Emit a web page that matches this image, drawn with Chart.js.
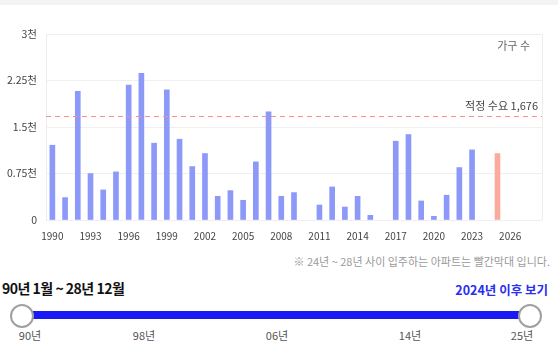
<!DOCTYPE html>
<html><head><meta charset="utf-8">
<script src="https://cdn.jsdelivr.net/npm/chart.js@4.4.0/dist/chart.umd.min.js"></script>
<style>
html,body{margin:0;padding:0;background:#fff;width:558px;height:357px;overflow:hidden;font-family:"Noto Sans CJK KR","Noto Sans",sans-serif;}
#topband{position:absolute;left:0;top:0;width:558px;height:5px;background:#f3f3f3;}
#wrap{position:absolute;left:0;top:0;width:558px;height:244px;}
.abs{position:absolute;white-space:nowrap;}
#note{right:8px;top:253px;font-size:11px;color:#9a9a9a;}
#range{left:2px;top:278px;font-size:14px;font-weight:bold;color:#111;letter-spacing:-0.5px;}
#after{right:10px;top:280px;font-size:12.5px;font-weight:bold;color:#2a2ef0;}
#track{left:22px;top:311px;width:508px;height:8px;background:#1a1af5;}
.knob{width:20px;height:20px;border:2px solid #a0a0a0;border-radius:50%;background:#fff;top:304px;}
.lbl{top:327px;font-size:11px;color:#555;transform:translateX(-50%);}
</style></head>
<body>
<div id="topband"></div>
<div id="wrap"><canvas id="c" width="558" height="244"></canvas></div>
<div class="abs" id="note">※ 24년 ~ 28년 사이 입주하는 아파트는 빨간막대 입니다.</div>
<div class="abs" id="range">90년 1월 ~ 28년 12월</div>
<div class="abs" id="after">2024년 이후 보기</div>
<div class="abs" id="track"></div>
<div class="abs knob" style="left:10px"></div>
<div class="abs knob" style="left:518px"></div>
<div class="abs lbl" style="left:30px">90년</div>
<div class="abs lbl" style="left:144px">98년</div>
<div class="abs lbl" style="left:277px">06년</div>
<div class="abs lbl" style="left:410px">14년</div>
<div class="abs lbl" style="left:522px">25년</div>
<script>
const years = ['1990','1991','1992','1993','1994','1995','1996','1997','1998','1999','2000','2001','2002','2003','2004','2005','2006','2007','2008','2009','2010','2011','2012','2013','2014','2015','2016','2017','2018','2019','2020','2021','2022','2023','2024','2025','2026','2027','2028'];
const pastSupply = [1206,361,2074,749,485,776,2176,2364,1239,2100,1303,862,1072,382,474,318,937,1745,382,442,null,242,533,210,382,75,null,1271,1379,307,59,399,846,1131,null,null,null,null,null];
const futureSupply = [null,null,null,null,null,null,null,null,null,null,null,null,null,null,null,null,null,null,null,null,null,null,null,null,null,null,null,null,null,null,null,null,null,null,null,1072,null,null,null];
const yTicks = [0,750,1500,2250,3000];
const yTickLabels = ['0','0.75천','1.5천','2.25천','3천'];
const properDemand = 1676;
const properDemandLabel = '적정 수요 1,676';
const unitLabel = '가구 수';

const FONT = '"Noto Sans CJK KR","Noto Sans",sans-serif';

const overlay = {
  id:'overlay',
  afterDatasetsDraw(chart){
    const {ctx, chartArea:a, scales:{y}} = chart;
    ctx.save();
    ctx.strokeStyle='#ececec'; ctx.lineWidth=1;
    ctx.beginPath(); ctx.moveTo(a.right+0.5,a.top); ctx.lineTo(a.right+0.5,a.bottom); ctx.stroke();
    const yy = Math.round(y.getPixelForValue(properDemand))+0.5;
    ctx.strokeStyle='#ff8c8c'; ctx.lineWidth=1; ctx.setLineDash([5,4]);
    ctx.beginPath(); ctx.moveTo(a.left,yy); ctx.lineTo(a.right,yy); ctx.stroke();
    ctx.setLineDash([]);
    ctx.fillStyle='#444'; ctx.font='11px '+FONT; ctx.textAlign='right'; ctx.textBaseline='bottom';
    ctx.fillText(properDemandLabel, a.right-4, yy-5);
    ctx.fillStyle='#666'; ctx.font='11px '+FONT; ctx.textBaseline='middle';
    ctx.fillText(unitLabel, a.right-12, a.top+12);
    ctx.restore();
  }
};

new Chart(document.getElementById('c'), {
  type:'bar',
  data:{labels:years, datasets:[
    {data:pastSupply, backgroundColor:'#8d99f9', barThickness:5},
    {data:futureSupply, backgroundColor:'#fbab9e', barThickness:5}
  ]},
  options:{
    responsive:false, animation:false, maintainAspectRatio:false,
    layout:{padding:{top:34,right:16,left:0,bottom:0}},
    plugins:{legend:{display:false},tooltip:{enabled:false}},
    scales:{
      x:{stacked:true, grid:{display:false}, border:{display:false},
         ticks:{autoSkip:false,maxRotation:0,color:'#444',font:{size:10,family:FONT},padding:2,
           callback:(v,i)=> i%3===0 ? years[i] : ''}},
      y:{stacked:true, min:0, max:3000, afterFit(s){s.width=46;},
         afterBuildTicks(s){s.ticks = yTicks.map(v=>({value:v}));},
         grid:{color:'#efefef', drawTicks:false}, border:{color:'#ececec'},
         ticks:{color:'#444',font:{size:10.5,family:FONT},padding:9,
           callback:(v)=> yTickLabels[yTicks.indexOf(v)]}}
    }
  },
  plugins:[overlay]
});
</script>
</body></html>
